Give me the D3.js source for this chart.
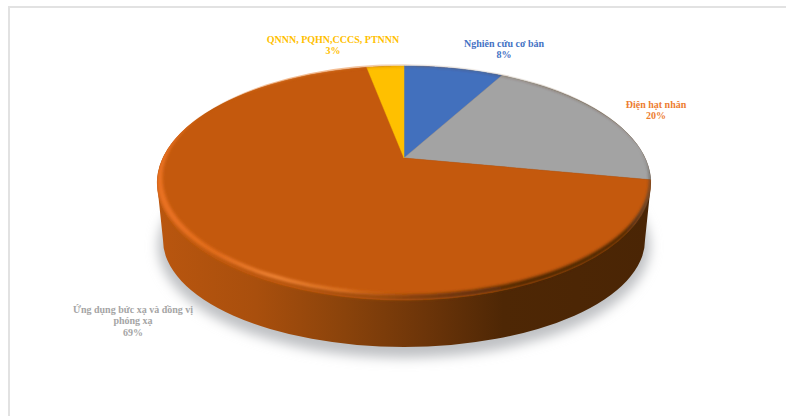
<!DOCTYPE html>
<html lang="vi">
<head>
<meta charset="utf-8">
<script src="https://cdn.jsdelivr.net/npm/d3@7/dist/d3.min.js"></script>
<style>
html,body{margin:0;padding:0;background:#fff;}
svg{display:block;}
text{font-family:"Liberation Serif",serif;font-weight:700;font-size:10px;text-anchor:middle;}
</style>
</head>
<body>
<svg id="chart" width="786" height="416"></svg>
<script>
// Slices, clockwise from twelve o'clock
const categories = ["Nghiên cứu cơ bản", "Điện hạt nhân", "Ứng dụng bức xạ và đồng vị phóng xạ", "QNNN, PQHN,CCCS, PTNNN"];
const shares = [8, 20, 69, 3];
const sliceColors = ["#4270bd", "#a3a3a3", "#c4590d", "#ffc000"];
const labelColors = ["#4472c4", "#ed7d31", "#a5a5a5", "#ffc000"];
const labelLines = [["Nghiên cứu cơ bản"], ["Điện hạt nhân"], ["Ứng dụng bức xạ và đồng vị", "phóng xạ"], ["QNNN, PQHN,CCCS, PTNNN"]];

const width = 786, height = 416;
const svg = d3.select("#chart");
const defs = svg.append("defs");

// Perspective tilt of the disc: far side shrinks, near side grows
const tilt = 0.2137;
const x = d3.scaleLinear().domain([-1, 1]).range([404 - 241, 404 + 241]);
const y = d3.scaleLinear().domain([-1, 1]).range([158 - 111.7, 158 + 111.7]);
const project = (angle, r = 1) => {
  const u = r * Math.sin(angle), v = -r * Math.cos(angle), w = 1 - tilt * v;
  return [x(u / w), y(v / w)];
};

// Outline of the projected disc as a closed ellipse
const ellipsePath = (cx, cy, rx, ry) =>
  `M${cx - rx},${cy}A${rx},${ry} 0 1 0 ${cx + rx},${cy}A${rx},${ry} 0 1 0 ${cx - rx},${cy}Z`;
const face = { cx: 404, cy: 183, rx: 247, ry: 117 };
const foot = { cx: 404, cy: 240, rx: 241, ry: 107 };

const blur = (id, sd) => defs.append("filter").attr("id", id)
  .attr("x", "-20%").attr("y", "-20%").attr("width", "140%").attr("height", "140%")
  .append("feGaussianBlur").attr("stdDeviation", sd);
blur("soft-shadow", 6);
blur("soft-rim", 1.8);
blur("soft-stripe", 1.5);

const hGradient = (id, stops) => {
  const g = defs.append("linearGradient").attr("id", id)
    .attr("gradientUnits", "userSpaceOnUse")
    .attr("x1", 157).attr("x2", 651).attr("y1", 0).attr("y2", 0);
  stops.forEach(([o, c, a]) => g.append("stop").attr("offset", o).attr("stop-color", c).attr("stop-opacity", a ?? 1));
};
hGradient("wall-fill", [[0, "#b9560f"], [0.2, "#a94f0d"], [0.38, "#8a430b"], [0.54, "#6d3509"], [0.7, "#4e2705"], [1, "#4a2505"]]);
hGradient("rim-fill", [[0, "#c05a10"], [0.25, "#b9560f"], [0.45, "#9a4a0d"], [0.6, "#6d3509"], [0.75, "#4e2705"], [0.95, "#4a2505"], [1, "#45403c"]]);
hGradient("stripe-fill", [[0, "#ea7222", 1], [0.12, "#e8701f", 0.9], [0.24, "#f58a3c", 1], [0.38, "#f0822f", 0.8], [0.52, "#d26312", 0], [1, "#d26312", 0]]);

// Soft shadow under the disc
svg.append("ellipse")
  .attr("cx", foot.cx).attr("cy", foot.cy + 6).attr("rx", foot.rx + 5).attr("ry", foot.ry + 5)
  .attr("fill", "#bfc1c4").attr("filter", "url(#soft-shadow)");

// Page frame: top and left hairlines
svg.append("rect").attr("x", 8).attr("y", 6).attr("width", width - 8).attr("height", 2).attr("fill", "#e2e2e2");
svg.append("rect").attr("x", 8).attr("y", 6).attr("width", 2).attr("height", height - 6).attr("fill", "#e2e2e2");

// Side wall
svg.append("path")
  .attr("d", `M${face.cx - face.rx},${face.cy}L${foot.cx - foot.rx},${foot.cy}` +
    `A${foot.rx},${foot.ry} 0 0 0 ${foot.cx + foot.rx},${foot.cy}L${face.cx + face.rx},${face.cy}` +
    `A${face.rx},${face.ry} 0 0 0 ${face.cx - face.rx},${face.cy}Z`)
  .attr("fill", "url(#wall-fill)");

// Flat top face, one wedge per category
const pie = d3.pie().value(d => d).sort(null);
const arcs = pie(shares);
const line = d3.line();
const wedge = a => {
  const steps = d3.range(0, 61).map(i => a.startAngle + (a.endAngle - a.startAngle) * i / 60);
  return line([project(0, 0), ...steps.map(t => project(t))]) + "Z";
};
svg.append("clipPath").attr("id", "rim-clip").append("path")
  .attr("d", ellipsePath(face.cx, face.cy + 1, face.rx, face.ry + 3));
svg.append("g").selectAll("path").data(arcs).join("path")
  .attr("d", wedge)
  .attr("fill", (d, i) => sliceColors[i])
  .attr("stroke", (d, i) => sliceColors[i])
  .attr("stroke-width", 0.5);

// Bevel crescents round the near edge of the top face
const crescent = (inset, lift) =>
  ellipsePath(face.cx, face.cy, face.rx, face.ry) + ellipsePath(face.cx, face.cy - lift, face.rx - inset, face.ry - lift + 0.5);
const rim = svg.append("g").attr("clip-path", "url(#rim-clip)");
rim.append("path").attr("d", crescent(1.5, 3)).attr("fill-rule", "evenodd")
  .attr("fill", "url(#rim-fill)").attr("filter", "url(#soft-rim)");
rim.append("path").attr("d", ellipsePath(face.cx, face.cy - 2.5, face.rx, face.ry - 2) + ellipsePath(face.cx, face.cy - 5, face.rx - 5.5, face.ry - 2))
  .attr("fill-rule", "evenodd").attr("fill", "url(#stripe-fill)").attr("filter", "url(#soft-stripe)");

// Data labels: name lines followed by the percentage
const labelAnchors = [[504, 43], [656, 104], [133, 309], [333, 39]];
const lineStep = 11.5;
const labels = svg.append("g").selectAll("text").data(categories).join("text")
  .attr("fill", (d, i) => labelColors[i])
  .attr("transform", (d, i) => `translate(${labelAnchors[i][0]},${labelAnchors[i][1] + 3.5})`);
labels.each(function (d, i) {
  const t = d3.select(this);
  [...labelLines[i], `${shares[i]}%`].forEach((s, j) => {
    t.append("tspan").attr("x", 0).attr("y", j * lineStep).text(s);
  });
});
</script>
</body>
</html>
